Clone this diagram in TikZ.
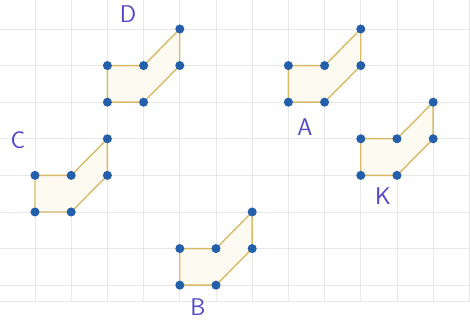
\documentclass[tikz,border=0pt]{standalone}
\usepackage{tikz}
\usetikzlibrary{backgrounds}
\definecolor{dotBlue}{RGB}{35,95,170}
\definecolor{edgeTan}{RGB}{216,186,104}
\definecolor{fillCream}{RGB}{252,250,241}
\definecolor{gridGray}{RGB}{232,232,232}
\definecolor{penViolet}{RGB}{84,72,200}
\tikzset{
  grid dot/.style={circle,fill=dotBlue,inner sep=0pt,minimum size=2.5mm},
  shape edge/.style={draw=edgeTan,fill=fillCream,line width=1.1pt,line join=round},
  paper line/.style={draw=gridGray,line width=0.6pt},
  shape label/.style={text=penViolet,font=\sffamily\fontsize{19}{19}\selectfont}
}

\begin{document}
\begin{tikzpicture}[x=1cm,y=1.011cm]
  \useasboundingbox (-0.967,0.792) rectangle (12.017,-8.005);
  % squared paper
  \begin{scope}[on background layer]
    \foreach \gx in {-1,...,12}
      \draw[paper line] (\gx,0.8) -- (\gx,-7.45);
    \foreach \gy in {0,...,-7}
      \draw[paper line] (-1,\gy) -- (12.1,\gy);
    \draw[paper line] (-1,-7.45) -- (12.1,-7.45);
  \end{scope}
  % the five figures
  \foreach \fig/\px/\py in {D/2/-2,A/7/-2,K/9/-4,C/0/-5,B/4/-7}{
    \node[grid dot] (\fig-1) at (\px,\py) {};
    \node[grid dot] (\fig-2) at (\px+1,\py) {};
    \node[grid dot] (\fig-3) at (\px+2,\py+1) {};
    \node[grid dot] (\fig-4) at (\px+2,\py+2) {};
    \node[grid dot] (\fig-5) at (\px+1,\py+1) {};
    \node[grid dot] (\fig-6) at (\px,\py+1) {};
    \begin{scope}[on background layer]
      \draw[shape edge] (\fig-1.center) -- (\fig-2.center) -- (\fig-3.center) -- (\fig-4.center) -- (\fig-5.center) -- (\fig-6.center) -- cycle;
    \end{scope}
  }
  \node[shape label] (labD) at (2.57,0.41) {D};
  \node[shape label] (labA) at (7.46,-2.68) {A};
  \node[shape label] (labC) at (-0.47,-3.03) {C};
  \node[shape label] (labK) at (9.61,-4.56) {K};
  \node[shape label] (labB) at (4.5,-7.6) {B};
\end{tikzpicture}
\end{document}
